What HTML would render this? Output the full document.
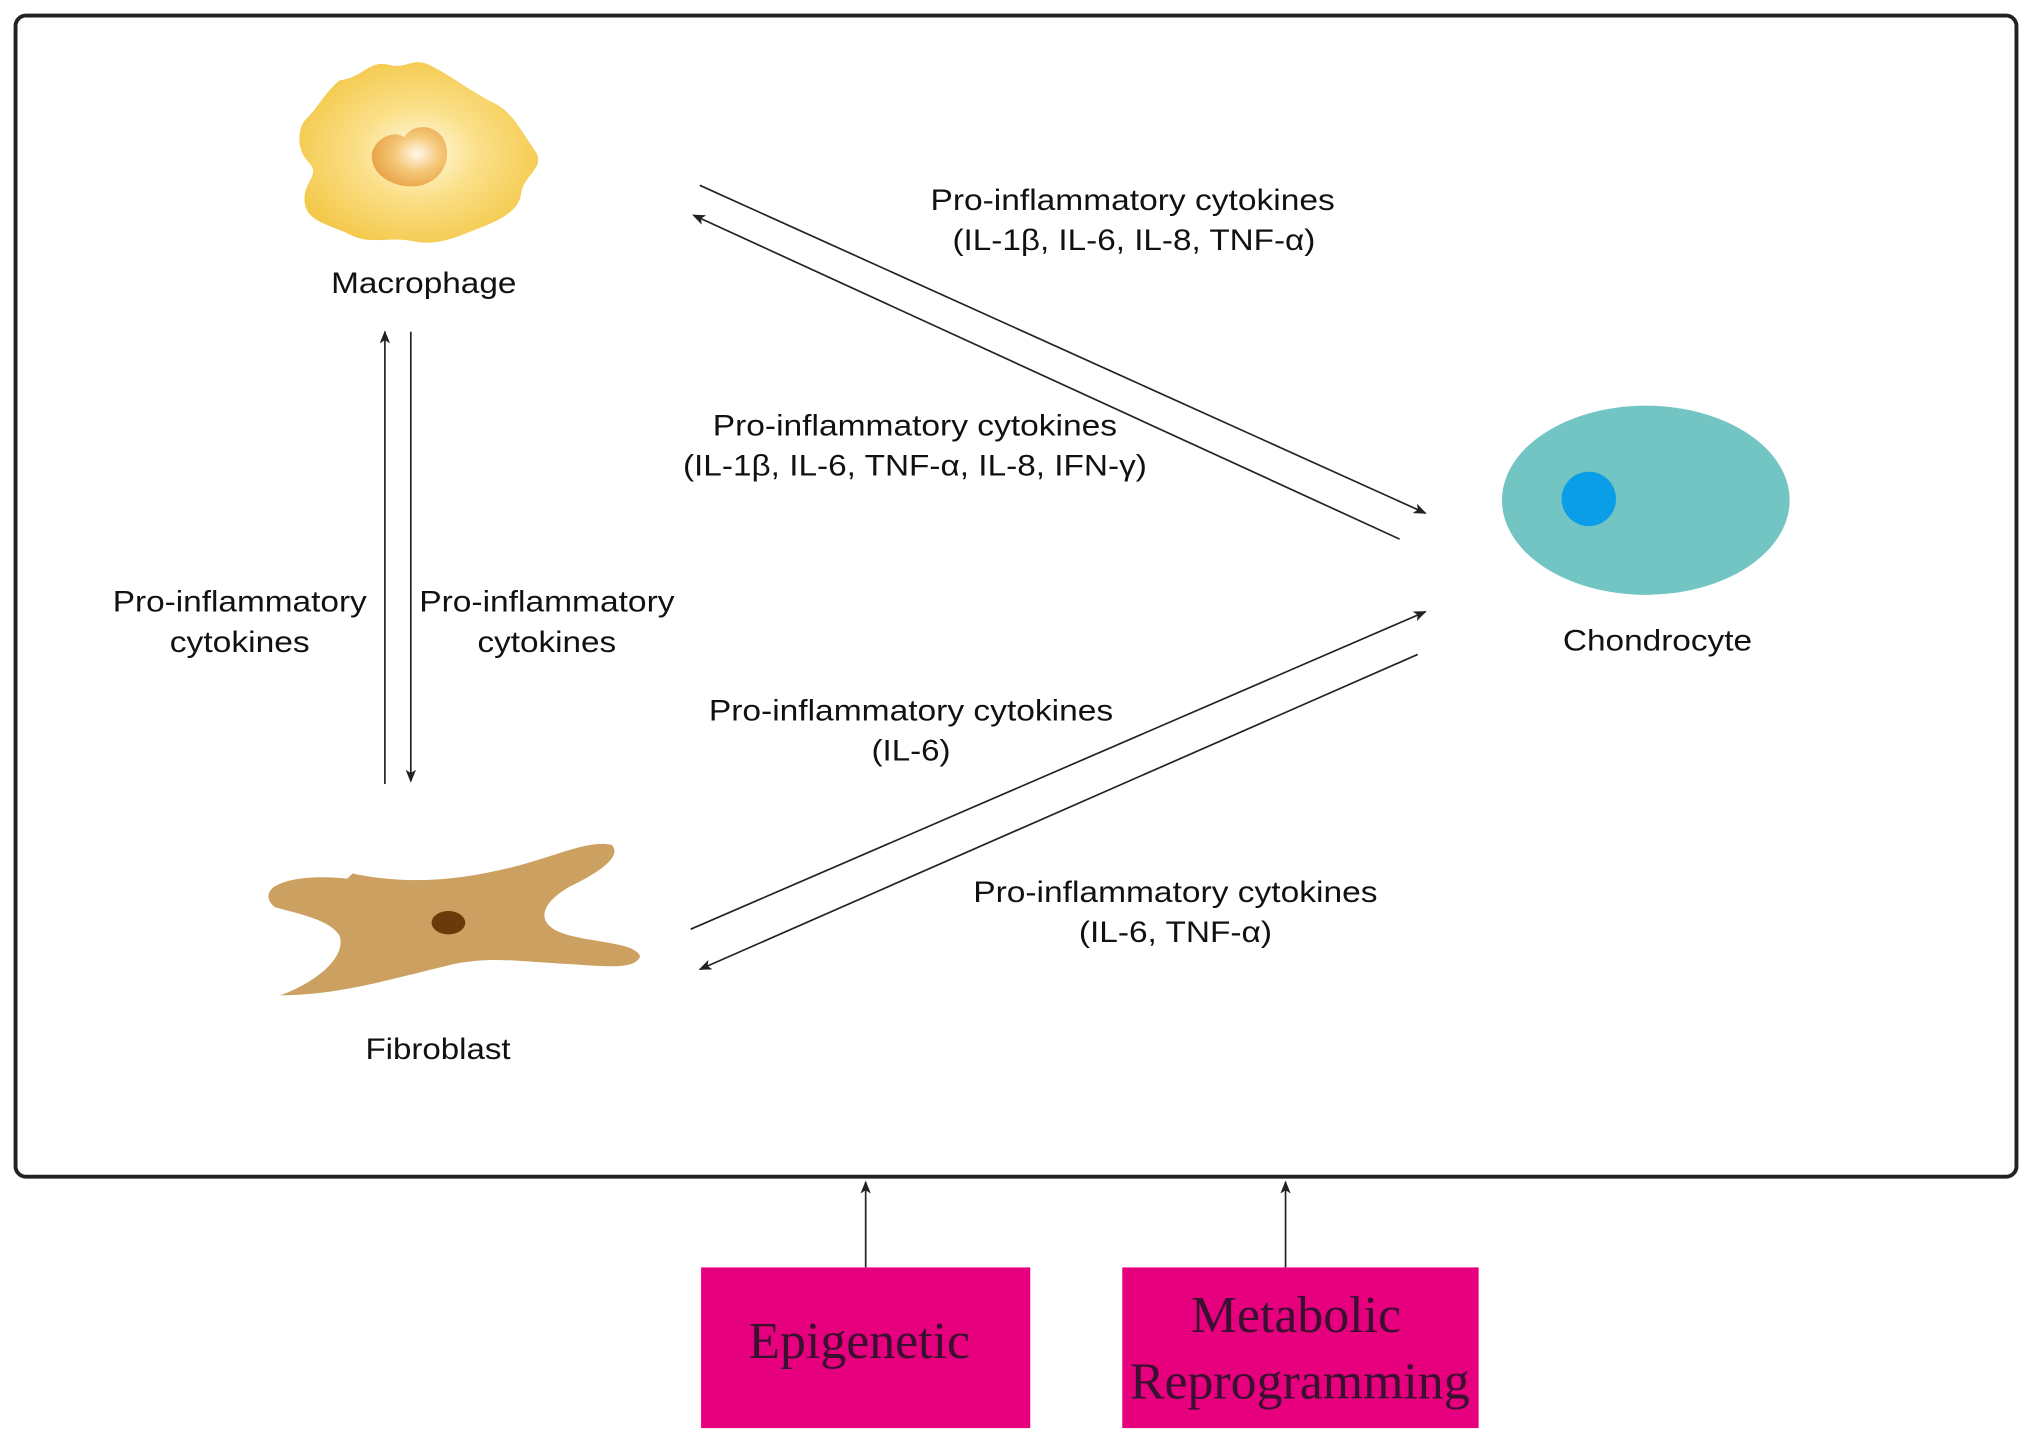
<!DOCTYPE html>
<html><head><meta charset="utf-8"><style>html,body{margin:0;padding:0;background:#fff}svg{display:block}</style></head><body>
<svg width="2032" height="1443" viewBox="0 0 1568 1113.5" xmlns="http://www.w3.org/2000/svg">
<defs>
<marker id="ah" markerWidth="10" markerHeight="8" refX="9" refY="4" orient="auto" markerUnits="userSpaceOnUse"><path d="M0,0 L10,4 L0,8 L2.5,4 z" fill="#222"/></marker>
<radialGradient id="mg" cx="0.5" cy="0.5" r="0.55"><stop offset="0" stop-color="#fffbe8"/><stop offset="0.45" stop-color="#fbe08a"/><stop offset="1" stop-color="#f4c94a"/></radialGradient>
<radialGradient id="ng" cx="0.6" cy="0.45" r="0.6"><stop offset="0" stop-color="#fff8ec"/><stop offset="0.5" stop-color="#f5c878"/><stop offset="1" stop-color="#e8a448"/></radialGradient>
</defs>
<rect x="12" y="12" width="1544" height="896" rx="8" fill="none" stroke="#222" stroke-width="3"/>
<path d="M262,62 C280,60 285,46 300,50 C315,54 318,42 335,52 C350,60 360,68 378,78 C395,85 400,98 414,118 C420,130 404,135 402,150 C400,165 380,172 365,178 C350,184 335,190 318,186 C300,182 285,190 268,180 C250,172 236,170 235,155 C234,140 248,135 238,125 C228,115 230,98 236,92 C244,85 250,72 262,62 Z" fill="url(#mg)"/>
<path d="M287,118 C290,106 305,100 312,106 C316,98 330,94 340,104 C350,116 345,138 325,143 C305,147 285,135 287,118 Z" fill="url(#ng)"/>
<g font-family="Liberation Sans, sans-serif" font-size="22.5" fill="#111" text-anchor="middle" lengthAdjust="spacingAndGlyphs">
<text x="327" y="226" textLength="143" lengthAdjust="spacingAndGlyphs">Macrophage</text>
<text x="338" y="817" textLength="112" lengthAdjust="spacingAndGlyphs">Fibroblast</text>
<text x="1279" y="502" textLength="146" lengthAdjust="spacingAndGlyphs">Chondrocyte</text>
<text x="185" y="472" textLength="196" lengthAdjust="spacingAndGlyphs">Pro-inflammatory</text><text x="185" y="503" textLength="108" lengthAdjust="spacingAndGlyphs">cytokines</text>
<text x="422" y="472" textLength="197" lengthAdjust="spacingAndGlyphs">Pro-inflammatory</text><text x="422" y="503" textLength="107" lengthAdjust="spacingAndGlyphs">cytokines</text>
<text x="874" y="162" textLength="312" lengthAdjust="spacingAndGlyphs">Pro-inflammatory cytokines</text><text x="875" y="193" textLength="280" lengthAdjust="spacingAndGlyphs">(IL-1β, IL-6, IL-8, TNF-α)</text>
<text x="706" y="336" textLength="312" lengthAdjust="spacingAndGlyphs">Pro-inflammatory cytokines</text><text x="706" y="367" textLength="358" lengthAdjust="spacingAndGlyphs">(IL-1β, IL-6, TNF-α, IL-8, IFN-γ)</text>
<text x="703" y="556" textLength="312" lengthAdjust="spacingAndGlyphs">Pro-inflammatory cytokines</text><text x="703" y="587" textLength="61" lengthAdjust="spacingAndGlyphs">(IL-6)</text>
<text x="907" y="696" textLength="312" lengthAdjust="spacingAndGlyphs">Pro-inflammatory cytokines</text><text x="907" y="727" textLength="149" lengthAdjust="spacingAndGlyphs">(IL-6, TNF-α)</text>
</g>
<path d="M212,684 C225,676 250,676 268,678 L272,674 C320,684 360,678 400,668 C430,660 455,648 472,652 C480,660 465,672 440,684 C415,698 412,715 440,722 C465,728 490,728 494,738 C490,748 470,746 440,744 C400,742 380,738 350,744 C300,756 260,768 216,768 C240,760 268,740 262,722 C255,710 230,705 212,700 C205,694 206,688 212,684 Z" fill="#cca060"/>
<ellipse cx="346" cy="712" rx="13" ry="9" fill="#6b3a0a"/>
<ellipse cx="1270" cy="386" rx="111" ry="73" fill="#72c5c3"/>
<circle cx="1226" cy="385" r="21" fill="#0a9ee8"/>
<g stroke="#222" stroke-width="1.3" fill="none" marker-end="url(#ah)">
<line x1="297" y1="605" x2="297" y2="256"/>
<line x1="317" y1="256" x2="317" y2="603"/>
<line x1="540" y1="143" x2="1100" y2="396"/>
<line x1="1080" y1="416" x2="535" y2="166"/>
<line x1="533" y1="717" x2="1100" y2="472"/>
<line x1="1094" y1="505" x2="540" y2="748"/>
<line x1="668" y1="978" x2="668" y2="912"/>
<line x1="992" y1="978" x2="992" y2="912"/>
</g>
<rect x="541" y="978" width="254" height="124" fill="#e6007e"/>
<rect x="866" y="978" width="275" height="124" fill="#e6007e"/>
<g font-family="Liberation Serif, serif" font-size="40" fill="#3a1030" text-anchor="middle">
<text x="663" y="1048">Epigenetic</text>
<text x="1000" y="1028">Metabolic</text>
<text x="1003" y="1079">Reprogramming</text>
</g>
</svg>
</body></html>
